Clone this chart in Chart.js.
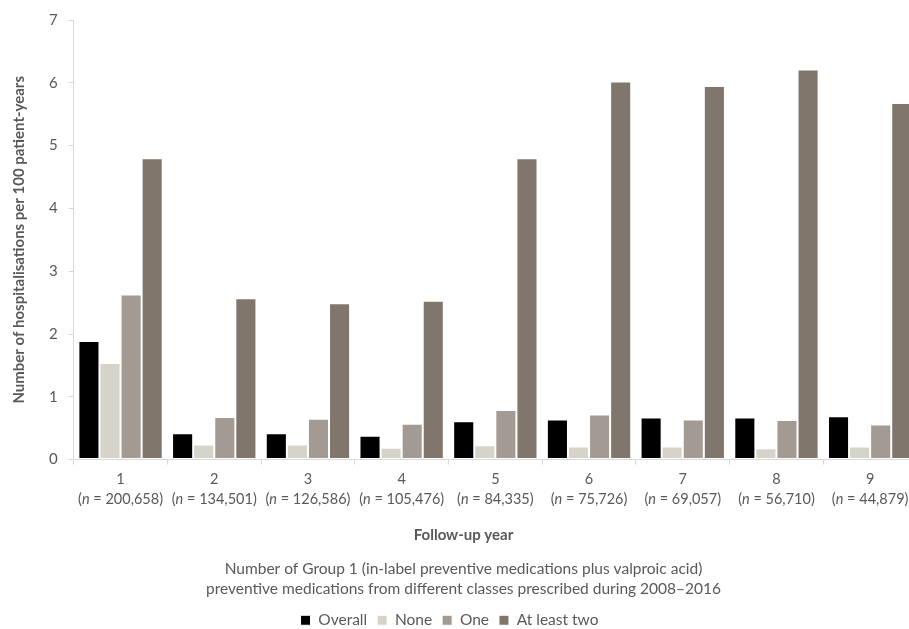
<!DOCTYPE html>
<html>
<head>
<meta charset="utf-8">
<script src="https://cdn.jsdelivr.net/npm/chart.js@4/dist/chart.umd.min.js"></script>
<style>
    html, body { margin: 0; padding: 0; background: #fff; overflow: hidden; }
    #wrap { width: 920px; height: 629px; position: relative; }
</style>
</head>
<body>
<div id="wrap"><canvas id="hospChart"></canvas></div>
<script>
// 數據
const years = ['1', '2', '3', '4', '5', '6', '7', '8', '9'];
const nCounts = ['200,658', '134,501', '126,586', '105,476', '84,335', '75,726', '69,057', '56,710', '44,879'];
const overall = [1.89, 0.42, 0.42, 0.38, 0.61, 0.64, 0.67, 0.67, 0.69];
const none = [1.54, 0.24, 0.24, 0.19, 0.23, 0.21, 0.21, 0.18, 0.21];
const one = [2.63, 0.68, 0.65, 0.57, 0.79, 0.72, 0.64, 0.63, 0.56];
const atLeastTwo = [4.80, 2.57, 2.49, 2.53, 4.80, 6.02, 5.95, 6.21, 5.68];
const yTicks = [0, 1, 2, 3, 4, 5, 6, 7];

const textColor = '#595959';
const axisColor = '#d9d9d9';
const fontFamily = "Lato, 'Open Sans', sans-serif";
const tickFont = 14.5;

/**
 * 畫 x 軸標籤 (n 為斜體)
 */
const tickLabelPlugin = {
    id: 'tickLabels',
    afterLayout(chart) {
        // 圖例稍微偏左，跟原圖一樣
        if (chart.legend) {
            chart.legend.left -= 14;
            chart.legend.right -= 14;
        }
    },
    afterDraw(chart) {
        const ctx = chart.ctx;
        const xScale = chart.scales.x;
        const top = xScale.top;
        const plain = `${tickFont}px ${fontFamily}`;
        const italic = `italic ${tickFont}px ${fontFamily}`;
        ctx.save();
        ctx.fillStyle = textColor;
        ctx.textBaseline = 'middle';
        years.forEach((yr, i) => {
            const cx = xScale.getPixelForValue(i);
            ctx.font = plain;
            ctx.textAlign = 'center';
            ctx.fillText(yr, cx, top + 20);

            // 第二行：(n = xxx)
            const p1 = '(';
            const p2 = 'n';
            const p3 = ' = ' + nCounts[i] + ')';
            ctx.font = plain;
            const w1 = ctx.measureText(p1).width;
            const w3 = ctx.measureText(p3).width;
            ctx.font = italic;
            const w2 = ctx.measureText(p2).width;
            let x = cx - (w1 + w2 + w3) / 2;
            ctx.textAlign = 'left';
            ctx.font = plain;
            ctx.fillText(p1, x, top + 40);
            x += w1;
            ctx.font = italic;
            ctx.fillText(p2, x, top + 40);
            x += w2;
            ctx.font = plain;
            ctx.fillText(p3, x, top + 40);
        });
        ctx.restore();
    }
};

function makeDataset(label, data, color) {
    return {
        label: label,
        data: data,
        backgroundColor: color,
        borderColor: '#ffffff',
        borderWidth: 1,
        borderSkipped: false,
        categoryPercentage: 0.9,
        barPercentage: 1.0
    };
}

const ctx = document.getElementById('hospChart');
const hospChart = new Chart(ctx, {
    type: 'bar',
    data: {
        labels: years,
        datasets: [
            makeDataset('Overall', overall, '#000000'),
            makeDataset('None', none, '#d6d3ca'),
            makeDataset('One', one, '#a39a93'),
            makeDataset('At least two', atLeastTwo, '#80766c')
        ]
    },
    options: {
        responsive: true,
        maintainAspectRatio: false,
        animation: false,
        layout: {
            padding: { top: 2, right: 3, bottom: -9, left: 10 }
        },
        plugins: {
            legend: {
                display: true,
                position: 'bottom',
                weight: 300,
                labels: {
                    color: textColor,
                    font: { size: 15.5, family: fontFamily },
                    boxWidth: 10,
                    boxHeight: 10,
                    padding: 10
                }
            },
            title: {
                display: true,
                position: 'bottom',
                weight: 100,
                text: 'Follow-up year',
                color: textColor,
                font: { size: 15, weight: 'bold', family: fontFamily, lineHeight: 1.2 },
                padding: { top: 16, bottom: 0 }
            },
            subtitle: {
                display: true,
                position: 'bottom',
                weight: 200,
                text: [
                    'Number of Group 1 (in-label preventive medications plus valproic acid)',
                    'preventive medications from different classes prescribed during 2008\u20132016'
                ],
                color: textColor,
                font: { size: 15.5, family: fontFamily, lineHeight: 1.3 },
                padding: { top: 15, bottom: 3 }
            },
            tooltip: { enabled: false }
        },
        scales: {
            x: {
                grid: {
                    display: true,
                    offset: true,
                    drawOnChartArea: false,
                    drawTicks: true,
                    tickLength: 5,
                    color: axisColor
                },
                border: { color: axisColor },
                ticks: {
                    color: 'transparent',
                    font: { size: 14, family: fontFamily },
                    padding: 6,
                    callback: function (value, i) {
                        return [years[i], '(n = ' + nCounts[i] + ')'];
                    }
                }
            },
            y: {
                min: 0,
                max: 7,
                afterBuildTicks: function (scale) {
                    scale.ticks = yTicks.map(v => ({ value: v }));
                },
                grid: {
                    display: true,
                    drawOnChartArea: false,
                    drawTicks: true,
                    tickLength: 5,
                    color: axisColor
                },
                border: { color: axisColor },
                ticks: {
                    color: textColor,
                    font: { size: 15, family: fontFamily },
                    padding: 11
                },
                title: {
                    display: true,
                    text: 'Number of hospitalisations per 100 patient-years',
                    color: textColor,
                    font: { size: 15, weight: 'bold', family: fontFamily, lineHeight: 1.2 },
                    padding: { top: 0, bottom: 10 }
                }
            }
        }
    },
    plugins: [tickLabelPlugin]
});
</script>
</body>
</html>
